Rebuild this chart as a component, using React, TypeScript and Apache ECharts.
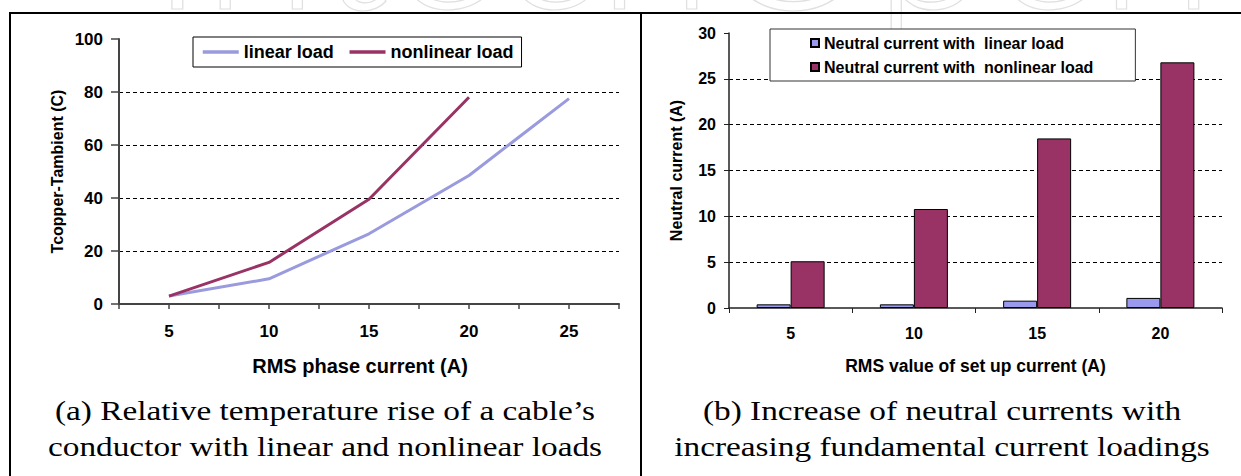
import React, { useEffect, useRef } from "react";
import * as echarts from "echarts";

// ---- Data ----
const phaseCurrent = [5, 10, 15, 20, 25];
const linearTemp = [3, 9.5, 26.5, 48.5, 77.5];
const nonlinearTemp = [3, 15.7, 39.5, 78];

const setupCurrent = ["5", "10", "15", "20"];
const neutralLinear = [0.4, 0.4, 0.8, 1.1];
const neutralNonlinear = [5.1, 10.8, 18.5, 26.8];

const lineNames = ["linear load", "nonlinear load"];
const barNames = ["Neutral current with  linear load", "Neutral current with  nonlinear load"];

const captionA = ["(a) Relative temperature rise of a cable\u2019s", "conductor with linear and nonlinear loads"];
const captionB = ["(b) Increase of neutral currents with", "increasing fundamental current loadings"];

const SANS = "Liberation Sans";
const SERIF = "Liberation Serif";

export default function App() {
  const ref = useRef<HTMLDivElement>(null);

  useEffect(() => {
    if (!ref.current) return;
    const chart = echarts.init(ref.current, undefined, { renderer: "svg" });

    const labelStyle = (size: number) => ({
      fontFamily: SANS,
      fontWeight: "bold" as const,
      fontSize: size,
      color: "#000",
    });

    const gridLine = {
      show: true,
      showMinLine: false,
      showMaxLine: false,
      lineStyle: { color: "#000", width: 1, type: [4, 3] as any },
    };

    const captionText = (lines: string[], cx: number) =>
      lines.map((t, i) => ({
        type: "text",
        x: cx,
        y: 411 + i * 36,
        scaleX: 1.19,
        z: 10,
        style: {
          text: t,
          font: `28px ${SERIF}`,
          fill: "#000",
          textAlign: "center",
          textVerticalAlign: "middle",
        },
      }));

    const option: any = {
      animation: false,
      backgroundColor: "#fff",
      grid: [
        { left: 119, top: 39, width: 500, height: 265 },
        { left: 729, top: 33, width: 493, height: 275 },
      ],
      xAxis: [
        {
          type: "value",
          gridIndex: 0,
          min: 2.5,
          max: 27.5,
          interval: 2.5,
          axisLine: { show: true, lineStyle: { color: "#444", width: 2 } },
          axisTick: { show: true, length: 5, lineStyle: { color: "#444", width: 1.5 } },
          splitLine: { show: false },
          axisLabel: {
            ...labelStyle(17),
            margin: 19,
            formatter: (v: number) => (v % 5 === 0 ? String(v) : ""),
          },
          name: "RMS phase current (A)",
          nameLocation: "middle",
          nameGap: 52,
          nameTextStyle: { ...labelStyle(20), padding: [0, 18, 0, 0] },
        },
        {
          type: "category",
          gridIndex: 1,
          data: setupCurrent,
          axisLine: { show: true, lineStyle: { color: "#222", width: 1.5 } },
          axisTick: { show: true, length: 5, alignWithLabel: false, lineStyle: { color: "#222", width: 1 } },
          axisLabel: { ...labelStyle(16), margin: 17 },
          name: "RMS value of set up current (A)",
          nameLocation: "middle",
          nameGap: 49,
          nameTextStyle: labelStyle(17.5),
        },
      ],
      yAxis: [
        {
          type: "value",
          gridIndex: 0,
          min: 0,
          max: 100,
          interval: 20,
          axisLine: { show: true, lineStyle: { color: "#444", width: 2 } },
          axisTick: { show: true, length: 8, lineStyle: { color: "#444", width: 1.5 } },
          splitLine: gridLine,
          axisLabel: { ...labelStyle(17), margin: 16 },
          name: "Tcopper-Tambient (C)",
          nameLocation: "middle",
          nameRotate: 90,
          nameGap: 54,
          nameTextStyle: labelStyle(16),
        },
        {
          type: "value",
          gridIndex: 1,
          min: 0,
          max: 30,
          interval: 5,
          axisLine: { show: true, lineStyle: { color: "#222", width: 1.5 } },
          axisTick: { show: true, length: 5, lineStyle: { color: "#222", width: 1 } },
          splitLine: gridLine,
          axisLabel: { ...labelStyle(16), margin: 13 },
          name: "Neutral current (A)",
          nameLocation: "middle",
          nameRotate: 90,
          nameGap: 45,
          nameTextStyle: labelStyle(16),
        },
      ],
      legend: [
        {
          data: lineNames,
          left: 193,
          top: 37,
          orient: "horizontal",
          itemWidth: 36,
          itemHeight: 14,
          itemGap: 14,
          padding: [6, 8],
          borderColor: "#000",
          borderWidth: 1,
          backgroundColor: "#fff",
          itemStyle: { opacity: 0 },
          lineStyle: { width: 3.5 },
          textStyle: labelStyle(18),
        },
        {
          data: barNames,
          left: 770,
          top: 29,
          orient: "vertical",
          icon: "rect",
          itemWidth: 8,
          itemHeight: 8,
          itemGap: 8,
          padding: [6, 42, 6, 40],
          borderColor: "#333",
          borderWidth: 1,
          backgroundColor: "#fff",
          textStyle: labelStyle(16),
        },
      ],
      series: [
        {
          name: lineNames[0],
          type: "line",
          xAxisIndex: 0,
          yAxisIndex: 0,
          symbol: "none",
          lineStyle: { color: "#9a9ade", width: 3 },
          itemStyle: { color: "#9a9ade" },
          data: phaseCurrent.map((x, i) => [x, linearTemp[i]]),
        },
        {
          name: lineNames[1],
          type: "line",
          xAxisIndex: 0,
          yAxisIndex: 0,
          symbol: "none",
          lineStyle: { color: "#993366", width: 3 },
          itemStyle: { color: "#993366" },
          data: nonlinearTemp.map((y, i) => [phaseCurrent[i], y]),
        },
        {
          name: barNames[0],
          type: "bar",
          xAxisIndex: 1,
          yAxisIndex: 1,
          barWidth: 34,
          barGap: "0%",
          itemStyle: { color: "#9999ee", borderColor: "#000", borderWidth: 1 },
          data: neutralLinear,
        },
        {
          name: barNames[1],
          type: "bar",
          xAxisIndex: 1,
          yAxisIndex: 1,
          barWidth: 34,
          barGap: "0%",
          itemStyle: { color: "#993366", borderColor: "#000", borderWidth: 1 },
          data: neutralNonlinear,
        },
      ],
      graphic: [
        {
          type: "text",
          x: 150,
          y: 33,
          z: -1,
          silent: true,
          style: {
            text: "IntechOpen",
            font: `300 210px Lato`,
            fill: "none",
            stroke: "#e0e0e0",
            lineWidth: 1.2,
            textVerticalAlign: "bottom",
          },
        },
        { type: "line", z: 20, shape: { x1: 9, y1: 13, x2: 1241, y2: 13 }, style: { stroke: "#000", lineWidth: 2 } },
        { type: "line", z: 20, shape: { x1: 10, y1: 12, x2: 10, y2: 476 }, style: { stroke: "#000", lineWidth: 2 } },
        { type: "line", z: 20, shape: { x1: 641, y1: 12, x2: 641, y2: 476 }, style: { stroke: "#000", lineWidth: 2 } },
        ...captionText(captionA, 325),
        ...captionText(captionB, 942),
      ],
    };

    chart.setOption(option);
    return () => chart.dispose();
  }, []);

  return (
    <div
      ref={ref}
      style={{ position: "absolute", left: 0, top: 0, width: 1241, height: 476 }}
    />
  );
}
